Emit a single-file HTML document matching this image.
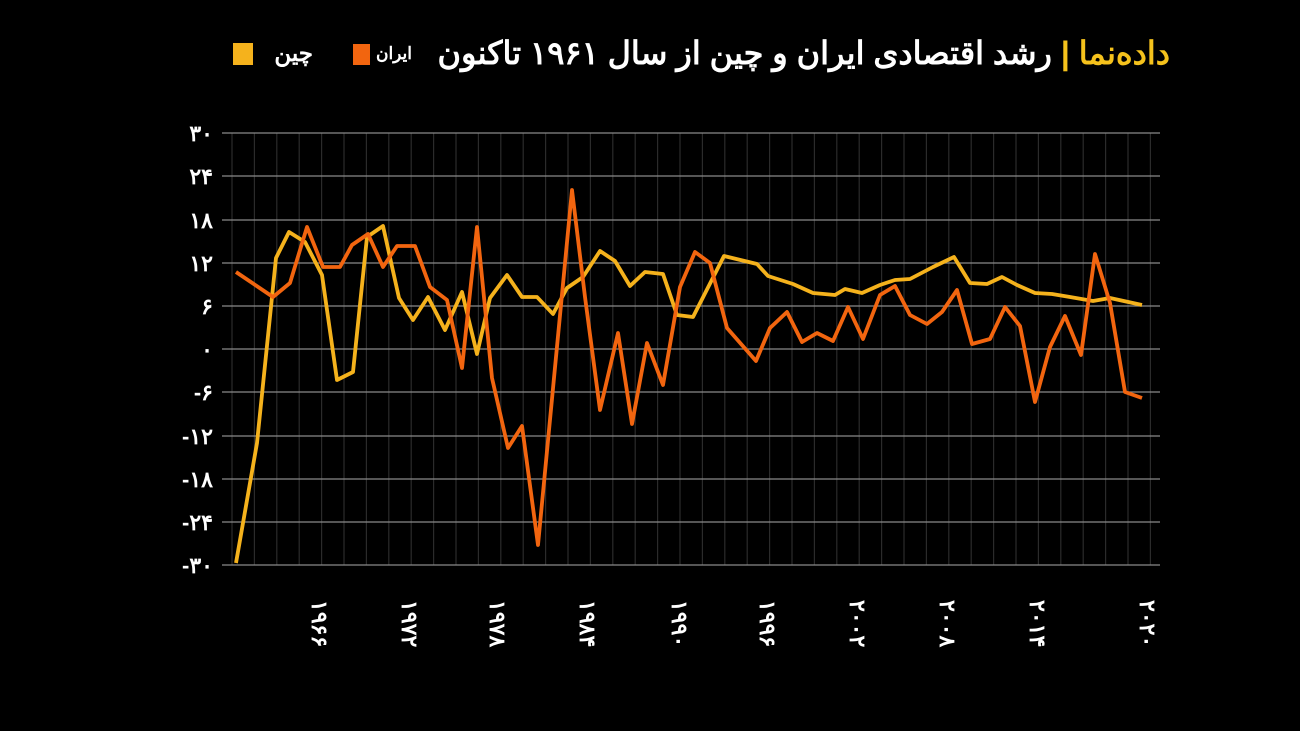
<!DOCTYPE html>
<html><head><meta charset="utf-8"><style>
body{margin:0;background:#000;width:1300px;height:731px;overflow:hidden;font-family:"Liberation Sans","Noto Sans CJK SC",sans-serif;position:relative}
.t{position:absolute;white-space:nowrap;font-weight:bold;color:#fff;direction:rtl}
</style></head><body>
<svg width="1300" height="731" xmlns="http://www.w3.org/2000/svg" style="position:absolute;left:0;top:0">
<rect width="1300" height="731" fill="#000"/>
<g id="vg" stroke="#2b2b2b" stroke-width="1.2"></g>
<g stroke="#8a8a8a" stroke-width="1.3">
<line x1="222" x2="1160" y1="133" y2="133"/><line x1="222" x2="1160" y1="176" y2="176"/>
<line x1="222" x2="1160" y1="220" y2="220"/><line x1="222" x2="1160" y1="263" y2="263"/>
<line x1="222" x2="1160" y1="306" y2="306"/><line x1="222" x2="1160" y1="349" y2="349"/>
<line x1="222" x2="1160" y1="392" y2="392"/><line x1="222" x2="1160" y1="436" y2="436"/>
<line x1="222" x2="1160" y1="479" y2="479"/><line x1="222" x2="1160" y1="522" y2="522"/>
<line x1="222" x2="1160" y1="565" y2="565"/>
</g>
<g fill="#fff" font-size="22" font-weight="bold" text-anchor="end" font-family="'Liberation Sans','Noto Sans CJK SC',sans-serif">
<text x="213" y="141">۳۰</text><text x="213" y="184">۲۴</text><text x="213" y="228">۱۸</text>
<text x="213" y="271">۱۲</text><text x="213" y="314">۶</text><text x="213" y="357">۰</text>
<text x="213" y="400">-۶</text><text x="213" y="444">-۱۲</text><text x="213" y="487">-۱۸</text>
<text x="213" y="530">-۲۴</text><text x="213" y="573">-۳۰</text>
</g>
<g fill="#fff" font-size="22" font-weight="bold" font-family="'Liberation Sans','Noto Sans CJK SC',sans-serif">
<text transform="translate(312,600) rotate(90)">۱۹۶۶</text>
<text transform="translate(402,600) rotate(90)">۱۹۷۲</text>
<text transform="translate(490,600) rotate(90)">۱۹۷۸</text>
<text transform="translate(580,600) rotate(90)">۱۹۸۴</text>
<text transform="translate(672,600) rotate(90)">۱۹۹۰</text>
<text transform="translate(760,600) rotate(90)">۱۹۹۶</text>
<text transform="translate(850,600) rotate(90)">۲۰۰۲</text>
<text transform="translate(940,600) rotate(90)">۲۰۰۸</text>
<text transform="translate(1030,600) rotate(90)">۲۰۱۴</text>
<text transform="translate(1140,600) rotate(90)">۲۰۲۰</text>
</g>
<polyline fill="none" stroke="#f5b21c" stroke-width="3.8" stroke-linejoin="round" points="236,563 257,443 276,258 289,232 305,242 322,275 337,380 353,372 367,237 383,226 399,298 413,320 428,297 445,330 462,292 477,354 490,298 507,275 522,297 537,297 553,314 567,288 583,277 600,251 615,261 630,286 645,272 663,274 677,315 693,317 724,256 757,264 768,276 793,284 813,293 835,295 845,289 862,293 880,285 895,280 910,279 933,267 954,257 970,283 987,284 1002,277 1017,285 1035,293 1052,294 1070,297 1093,301 1110,298 1142,305"/>
<polyline fill="none" stroke="#f2650f" stroke-width="3.8" stroke-linejoin="round" points="236,272 273,297 290,283 307,227 323,267 340,267 352,245 368,234 383,267 397,246 415,246 430,287 447,300 462,368 477,227 492,378 508,448 522,426 538,545 572,190 585,297 600,410 618,333 632,424 647,343 663,385 680,287 695,252 710,263 727,328 756,361 770,328 787,312 802,342 817,333 833,341 848,307 863,339 880,295 895,286 910,315 927,324 942,312 957,290 972,344 990,339 1005,307 1020,326 1035,402 1050,347 1065,316 1081,355 1095,254 1110,303 1125,392 1142,398"/>
<rect x="353" y="44" width="17" height="21" fill="#f2650f"/>
<rect x="233" y="43" width="20" height="22" fill="#f5b21c"/>
</svg>
<div class="t" style="right:130px;top:34px;font-size:32px"><span style="color:#f5c21c">داده‌نما | </span>رشد اقتصادی ایران و چین از سال ۱۹۶۱ تاکنون</div>
<div class="t" style="right:888px;top:44px;font-size:17px">ایران</div>
<div class="t" style="right:987px;top:40px;font-size:23px">چین</div>
<script>
var g=document.getElementById('vg'),s='';
for(var x=232;x<1155;x+=22.4){s+='<line x1="'+x+'" x2="'+x+'" y1="133" y2="565"/>';}
g.innerHTML=s;
</script>
</body></html>
